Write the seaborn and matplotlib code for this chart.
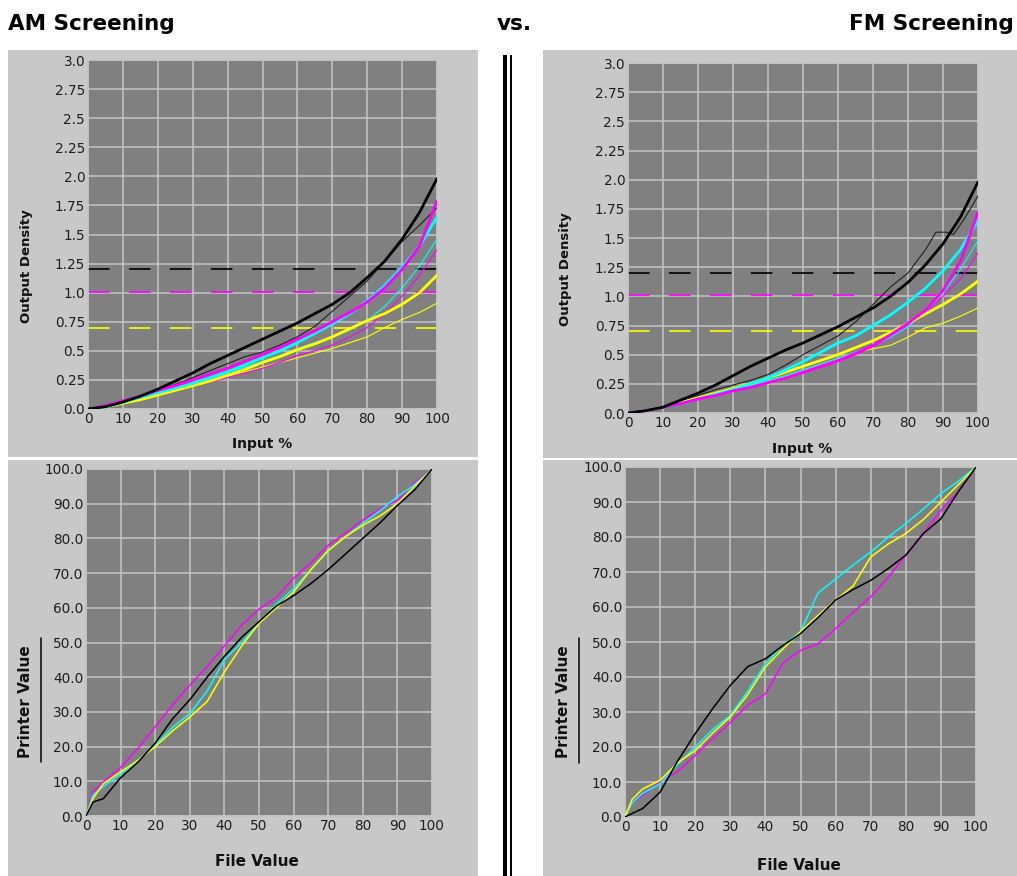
import numpy as np
import pandas as pd
import matplotlib
matplotlib.use("Agg")
import matplotlib.pyplot as plt
import seaborn as sns
from matplotlib.patches import Rectangle
from matplotlib.lines import Line2D

# --- Data ---
X_DENS = [0, 5, 10, 15, 20, 25, 30, 35, 40, 45, 50, 55, 60, 65, 70, 75, 80, 85, 90, 95, 100]
X_GRAY = [0, 2, 5, 10, 15, 20, 25, 30, 35, 40, 45, 50, 55, 60, 65, 70, 75, 80, 85, 90, 95, 100]
DENS_TICKS = [0.0, 0.25, 0.5, 0.75, 1.0, 1.25, 1.5, 1.75, 2.0, 2.25, 2.5, 2.75, 3.0]
DENS_LABELS = ["0.0", "0.25", "0.5", "0.75", "1.0", "1.25", "1.5", "1.75", "2.0", "2.25", "2.5", "2.75", "3.0"]
GRAY_TICKS = [0, 10, 20, 30, 40, 50, 60, 70, 80, 90, 100]
GRAY_LABELS = ["0.0", "10.0", "20.0", "30.0", "40.0", "50.0", "60.0", "70.0", "80.0", "90.0", "100.0"]
X_TICKS = [0, 10, 20, 30, 40, 50, 60, 70, 80, 90, 100]

# target densities (dashed): black, magenta, yellow
TARGETS = [1.20, 1.01, 0.70]

# AM screening - density curves (thick = current, thin = reference)
AM_K = [0, .02, .06, .11, .17, .24, .31, .39, .46, .53, .60, .67, .74, .82, .90, 1.00, 1.13, 1.27, 1.46, 1.69, 1.98]
AM_K_REF = [0, .02, .05, .10, .16, .21, .27, .33, .39, .45, .49, .55, .62, .71, .84, .97, 1.10, 1.27, 1.44, 1.58, 1.73]
AM_C = [0, .02, .06, .10, .14, .18, .22, .27, .32, .38, .44, .50, .57, .65, .73, .82, .93, 1.06, 1.22, 1.40, 1.65]
AM_C_REF = [0, .02, .05, .09, .13, .17, .22, .26, .31, .36, .41, .46, .52, .57, .62, .68, .76, .88, 1.04, 1.23, 1.46]
AM_M = [0, .03, .07, .11, .16, .20, .25, .30, .35, .41, .47, .53, .60, .67, .75, .83, .92, 1.04, 1.20, 1.40, 1.79]
AM_M_REF = [0, .02, .05, .08, .12, .16, .20, .23, .27, .31, .35, .40, .46, .50, .55, .62, .70, .82, .97, 1.15, 1.37]
AM_Y = [0, .02, .05, .08, .12, .16, .20, .24, .29, .34, .40, .45, .51, .56, .62, .69, .76, .82, .90, 1.00, 1.15]
AM_Y_REF = [0, .02, .05, .08, .12, .16, .20, .24, .28, .32, .36, .40, .44, .48, .52, .57, .62, .70, .77, .83, .91]

# FM screening - density curves
FM_K = [0, .02, .05, .11, .17, .24, .32, .40, .47, .54, .60, .67, .74, .82, .90, 1.00, 1.12, 1.27, 1.45, 1.68, 1.98]
FM_K_REF_X = [0, 5, 10, 15, 20, 25, 30, 35, 40, 45, 50, 55, 60, 65, 70, 75, 80, 85, 88, 91, 93, 96, 100]
FM_K_REF = [0, .02, .05, .10, .15, .20, .24, .28, .33, .41, .50, .58, .66, .78, .93, 1.08, 1.20, 1.40, 1.55, 1.55, 1.53, 1.66, 1.86]
FM_C = [0, .02, .05, .08, .12, .16, .20, .25, .30, .37, .44, .52, .60, .66, .75, .84, .95, 1.07, 1.22, 1.40, 1.65]
FM_C_REF = [0, .02, .05, .08, .12, .15, .19, .23, .28, .32, .37, .42, .47, .52, .58, .65, .74, .87, 1.03, 1.23, 1.48]
FM_M = [0, .02, .05, .08, .12, .15, .19, .22, .26, .30, .35, .40, .45, .51, .58, .67, .77, .88, 1.05, 1.30, 1.72]
FM_M_REF = [0, .02, .05, .08, .11, .15, .19, .22, .26, .30, .34, .39, .44, .50, .57, .65, .75, .86, 1.00, 1.15, 1.37]
FM_Y = [0, .02, .05, .09, .13, .17, .21, .25, .30, .35, .40, .45, .50, .56, .62, .69, .77, .85, .93, 1.02, 1.13]
FM_Y_REF = [0, .02, .05, .08, .12, .15, .19, .23, .27, .31, .36, .41, .46, .52, .55, .58, .65, .73, .77, .83, .90]

# gray balance: printer value vs file value
AM_GRAY_K = [0, 4, 5, 11, 15.5, 21, 28, 33.5, 40, 46, 51.5, 56, 60.5, 63.5, 67, 71, 75.5, 80, 84.5, 89.5, 94, 100]
AM_GRAY_C = [0, 6, 8.5, 12, 16, 20.5, 25.5, 29.5, 36, 45, 50, 55.5, 61, 65.5, 71, 76.5, 80.5, 84.3, 88, 92, 95.5, 100]
AM_GRAY_M = [0, 7, 9.8, 14, 19.5, 25.7, 32, 37.7, 43, 49, 55, 59.6, 63, 68.5, 73, 78, 81.5, 85.3, 88.5, 91, 96, 100]
AM_GRAY_Y = [0, 5, 9.3, 12.7, 16, 20, 24.5, 28.5, 33, 41.5, 49, 55.5, 60, 64.6, 71, 76.5, 80.5, 83.8, 86.5, 90, 95, 100]

FM_GRAY_K = [0, 1, 2.4, 7.1, 16, 23.8, 31, 37.6, 43, 45.2, 49, 52.4, 57, 62, 65, 67.6, 71, 74.8, 81, 85.2, 93, 100]
FM_GRAY_C = [0, 4, 6.7, 9.5, 15, 20, 25, 29, 36, 43.8, 49, 52.9, 64, 68, 72, 75.7, 80, 83.8, 88, 92.4, 96, 100]
FM_GRAY_M = [0, 4, 6.2, 10, 13, 17.6, 22.5, 27, 32, 35.2, 44, 47.6, 49.5, 53.8, 58.5, 62.9, 68.5, 74.8, 81, 87.6, 93, 100]
FM_GRAY_Y = [0, 5, 8, 10.5, 15.5, 19, 24, 28.6, 35, 42.9, 48, 53, 57.6, 62, 66, 74.3, 78, 81, 85, 90, 95, 100]

# --- Style ---
sns.set_style("white")
plt.rcParams["font.family"] = ["DejaVu Sans"]
plt.rcParams["lines.scale_dashes"] = False
plt.rcParams["text.color"] = "black"

INK = {"k": "#000000", "c": "#00ffff", "m": "#ff00ff", "y": "#ffff00"}
PLOT_BG = "#808080"
PANEL_BG = "#c8c8c8"
GRID = "#c4c4c4"
TICK_INK = "#1e1e1e"

W, H = 1017, 876
fig = plt.figure(figsize=(W / 100, H / 100), dpi=100)
fig.patch.set_facecolor("white")


def fbox(x0, y0, x1, y1):
    """pixel box (top-left origin) -> figure fraction [l, b, w, h]"""
    return [x0 / W, 1 - y1 / H, (x1 - x0) / W, (y1 - y0) / H]


def panel(x0, y0, x1, y1):
    l, b, w, h = fbox(x0, y0, x1, y1)
    fig.add_artist(Rectangle((l, b), w, h, transform=fig.transFigure,
                             facecolor=PANEL_BG, edgecolor="none", zorder=0))


def style_axes(ax, ymax, yticks, ylabels):
    ax.set_facecolor(PLOT_BG)
    ax.set_xlim(0, 100)
    ax.set_ylim(0, ymax)
    ax.set_xticks(X_TICKS)
    ax.set_xticklabels([str(t) for t in X_TICKS])
    ax.set_yticks(yticks)
    ax.set_yticklabels(ylabels)
    ax.grid(True, color=GRID, linewidth=1.1)
    ax.set_axisbelow(True)
    for s in ax.spines.values():
        s.set_color(GRID)
        s.set_linewidth(1.1)
    ax.tick_params(length=0, pad=2, labelsize=9.8, labelcolor=TICK_INK)


def density_chart(ax, k, k_ref, c, c_ref, m, m_ref, y, y_ref, k_ref_x=X_DENS):
    style_axes(ax, 3.0, DENS_TICKS, DENS_LABELS)
    for val, col in zip(TARGETS, [INK["k"], INK["m"], INK["y"]]):
        ax.axhline(val, color=col, linewidth=1.2, linestyle=(0, (15.5, 14)), zorder=2)
    sns.lineplot(x=X_DENS, y=y_ref, ax=ax, color=INK["y"], linewidth=0.8, zorder=3)
    sns.lineplot(x=X_DENS, y=m_ref, ax=ax, color=INK["m"], linewidth=0.8, zorder=3)
    sns.lineplot(x=X_DENS, y=c_ref, ax=ax, color=INK["c"], linewidth=0.8, zorder=3)
    sns.lineplot(x=k_ref_x, y=k_ref, ax=ax, color="#202020", linewidth=0.8, zorder=3)
    sns.lineplot(x=X_DENS, y=y, ax=ax, color=INK["y"], linewidth=2.0, zorder=4)
    sns.lineplot(x=X_DENS, y=c, ax=ax, color=INK["c"], linewidth=2.0, zorder=4)
    sns.lineplot(x=X_DENS, y=m, ax=ax, color=INK["m"], linewidth=2.0, zorder=4)
    sns.lineplot(x=X_DENS, y=k, ax=ax, color=INK["k"], linewidth=2.0, zorder=5)
    ax.set_xlabel("Input %", fontsize=10, fontweight="bold", color="#111111")
    ax.set_ylabel("Output Density", fontsize=9.5, fontweight="bold", color="#111111")


def gray_chart(ax, k, c, m, y):
    style_axes(ax, 100, GRAY_TICKS, GRAY_LABELS)
    sns.lineplot(x=X_GRAY, y=m, ax=ax, color=INK["m"], linewidth=1.1, zorder=3)
    sns.lineplot(x=X_GRAY, y=c, ax=ax, color=INK["c"], linewidth=1.1, zorder=3)
    sns.lineplot(x=X_GRAY, y=y, ax=ax, color=INK["y"], linewidth=1.1, zorder=3)
    sns.lineplot(x=X_GRAY, y=k, ax=ax, color=INK["k"], linewidth=1.1, zorder=4)
    ax.set_xlabel("File Value", fontsize=11, fontweight="bold", color="#111111")
    ax.set_ylabel("Printer Value", fontsize=11, fontweight="bold", color="#111111")


# light gray panels behind the charts
panel(8, 50, 478, 457)
panel(8, 460, 478, 876)
panel(543, 50, 1017, 458)
panel(543, 460, 1017, 876)

ax_tl = fig.add_axes(fbox(88, 60, 437, 409))
ax_tr = fig.add_axes(fbox(628, 63, 978, 413))
ax_bl = fig.add_axes(fbox(86, 469, 432, 816))
ax_br = fig.add_axes(fbox(625, 467, 976, 817))

density_chart(ax_tl, AM_K, AM_K_REF, AM_C, AM_C_REF, AM_M, AM_M_REF, AM_Y, AM_Y_REF)
density_chart(ax_tr, FM_K, FM_K_REF, FM_C, FM_C_REF, FM_M, FM_M_REF, FM_Y, FM_Y_REF,
              k_ref_x=FM_K_REF_X)
gray_chart(ax_bl, AM_GRAY_K, AM_GRAY_C, AM_GRAY_M, AM_GRAY_Y)
gray_chart(ax_br, FM_GRAY_K, FM_GRAY_C, FM_GRAY_M, FM_GRAY_Y)

# label placement
ax_tl.xaxis.set_label_coords(0.499, -0.080)
ax_tr.xaxis.set_label_coords(0.497, -0.083)
ax_tl.yaxis.set_label_coords(-0.158, 0.41)
ax_tr.yaxis.set_label_coords(-0.160, 0.41)
ax_bl.xaxis.set_label_coords(0.494, -0.110)
ax_br.xaxis.set_label_coords(0.496, -0.117)
ax_bl.yaxis.set_label_coords(-0.153, 0.33)
ax_br.yaxis.set_label_coords(-0.154, 0.33)

# rule next to "Printer Value"
for ax, xr in ((ax_bl, -0.130), (ax_br, -0.131)):
    ax.add_line(Line2D([xr, xr], [0.155, 0.512], transform=ax.transAxes,
                       color="#111111", linewidth=1.2, clip_on=False))

# double divider between the two halves
for x0, x1 in ((503, 507), (510, 512)):
    l, b, w, h = fbox(x0, 55, x1, 876)
    fig.add_artist(Rectangle((l, b), w, h, transform=fig.transFigure,
                             facecolor="black", edgecolor="none", zorder=5))

# headings
fig.text(8 / W, 1 - 30 / H, "AM Screening", fontsize=15.5, fontweight="bold",
         ha="left", va="baseline", color="black")
fig.text(514 / W, 1 - 30 / H, "vs.", fontsize=15.5, fontweight="bold",
         ha="center", va="baseline", color="black")
fig.text(1014 / W, 1 - 30 / H, "FM Screening", fontsize=15.5, fontweight="bold",
         ha="right", va="baseline", color="black")

fig.savefig("out.png", dpi=100)
plt.close(fig)
